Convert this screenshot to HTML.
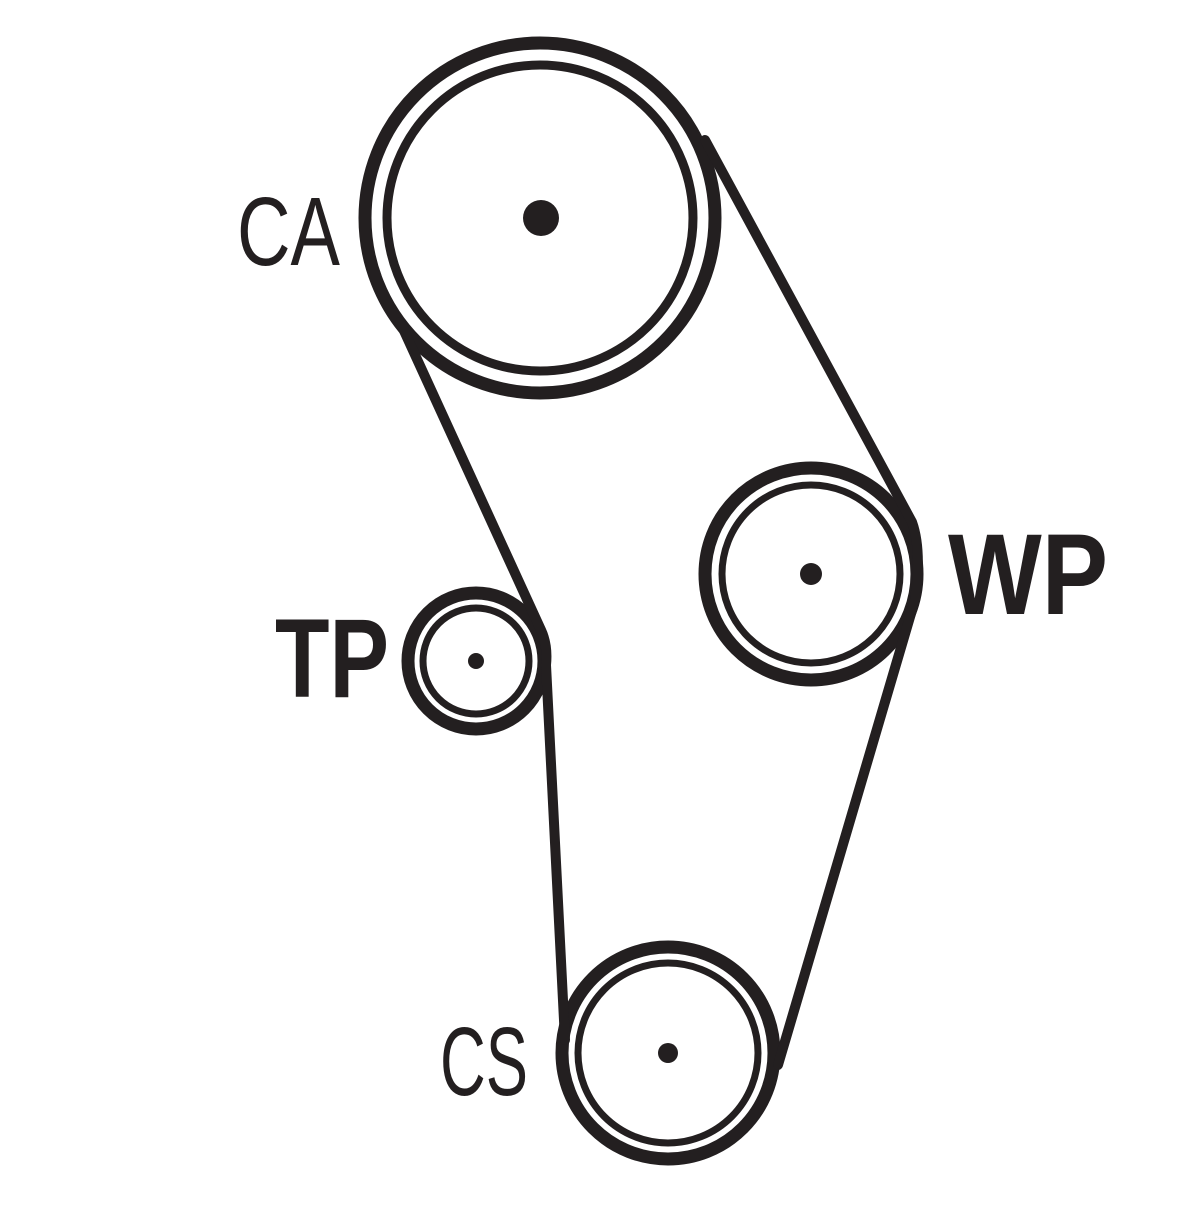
<!DOCTYPE html>
<html><head><style>html,body{margin:0;padding:0;background:#fff}</style></head>
<body>
<svg width="1200" height="1200" viewBox="0 0 1200 1200" xmlns="http://www.w3.org/2000/svg">
<rect width="1200" height="1200" fill="#fff"/>
<g fill="none" stroke="#231f20" stroke-linecap="round">
  <circle cx="540" cy="218" r="175" stroke-width="13"/>
  <circle cx="540" cy="218" r="153" stroke-width="9"/>
  <circle cx="811" cy="574" r="106" stroke-width="13"/>
  <circle cx="811" cy="574" r="89" stroke-width="7"/>
  <circle cx="476" cy="661" r="68" stroke-width="13"/>
  <circle cx="476" cy="661" r="53" stroke-width="7"/>
  <circle cx="668" cy="1053" r="106" stroke-width="13"/>
  <circle cx="668" cy="1053" r="90" stroke-width="7"/>
  <path d="M705 140 L912 522 Q922 550 915 600 L778 1065" stroke-width="10"/>
  <path d="M400 322 L541 630 Q548 645 546 665 L565 1040" stroke-width="10"/>
</g>
<g fill="#231f20">
  <circle cx="541" cy="218" r="18"/>
  <circle cx="811" cy="574" r="11"/>
  <circle cx="476" cy="661" r="8"/>
  <circle cx="668" cy="1053" r="10"/>
</g>
<g font-family="Liberation Sans, sans-serif" fill="#231f20">
  <text x="237" y="265" font-size="97" textLength="103" lengthAdjust="spacingAndGlyphs">CA</text>
  <text x="948" y="614" font-size="115" font-weight="bold" textLength="160" lengthAdjust="spacingAndGlyphs">WP</text>
  <text x="275" y="697" font-size="112" font-weight="bold" textLength="114" lengthAdjust="spacingAndGlyphs">TP</text>
  <text x="440" y="1095" font-size="97" textLength="88" lengthAdjust="spacingAndGlyphs">CS</text>
</g>
</svg>
</body></html>
